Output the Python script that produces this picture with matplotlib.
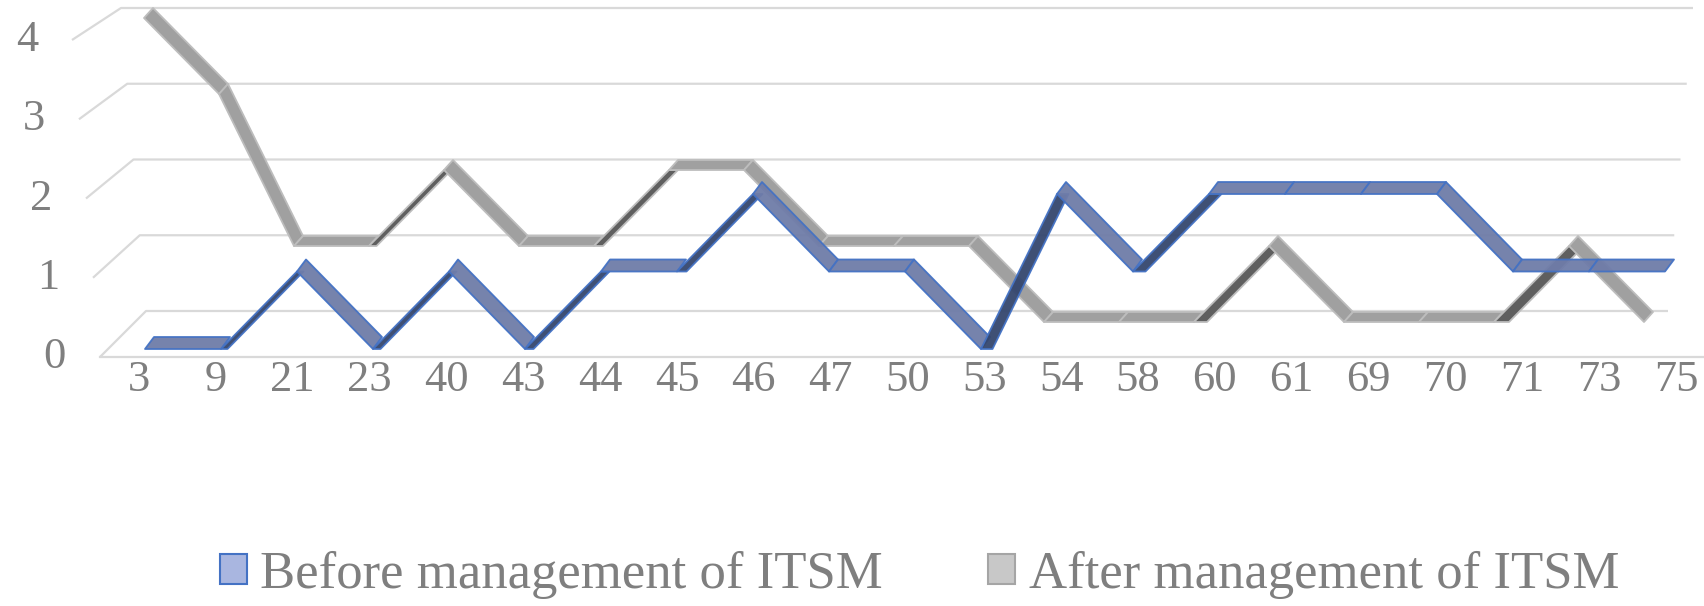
import numpy as np
import matplotlib
matplotlib.use('Agg')  # no display
import matplotlib.pyplot as plt
from matplotlib.patches import Polygon, Patch
from matplotlib.transforms import Affine2D

# chart data
categories = ['3', '9', '21', '23', '40', '43', '44', '45', '46', '47', '50',
              '53', '54', '58', '60', '61', '69', '70', '71', '73', '75']
before = [0, 0, 1, 0, 1, 0, 1, 1, 2, 1, 1, 0, 2, 1, 2, 2, 2, 2, 1, 1, 1]
after = [4, 3, 1, 1, 2, 1, 1, 2, 2, 1, 1, 1, 0, 0, 0, 1, 0, 0, 0, 1, 0]
y_ticks = [0, 1, 2, 3, 4]
series_names = ['Before management of ITSM', 'After management of ITSM']

plt.rcParams['font.family'] = ['Liberation Serif', 'DejaVu Serif']
text_color = '#7f7f7f'
grid_color = '#d9d9d9'

W, H = 1704, 606
fig = plt.figure(figsize=(W / 100, H / 100), dpi=100)
ax = fig.add_axes([0, 0, 1, 1])
ax.set_xlim(0, W)
ax.set_ylim(H, 0)
ax.axis('off')


def plane(x0, dx, y0, dy):
    # maps (category index, value) onto one depth slice of the fake 3D box
    return Affine2D().scale(dx, -dy).translate(x0, y0) + ax.transData


front = (145, 76, 349, 77.5)
back = (144, 75, 322, 76)

# back wall / side wall gridlines
gv = np.array(y_ticks, dtype=float)
back_y = 311 - 75.75 * gv
back_l = 146 - 6.25 * gv
back_r = 1668 + 6.25 * gv
side_x = 100 - 7 * gv
side_y = 357 - 79.25 * gv
for k in range(len(gv)):
    ax.plot([side_x[k], back_l[k], back_r[k]], [side_y[k], back_y[k], back_y[k]],
            color=grid_color, lw=1.6, zorder=1, solid_capstyle='butt')
ax.plot([side_x[0], W], [side_y[0], side_y[0]], color=grid_color, lw=1.6, zorder=1)

for k, v in enumerate(y_ticks):
    ax.text(side_x[k] - 34, side_y[k], str(v), ha='right', va='center',
            fontsize=32, color=text_color)

label_tr = plane(139, 76.85, 380, 1)
for i, c in enumerate(categories):
    ax.text(i, 0, c, transform=label_tr, ha='center', va='center',
            fontsize=32, color=text_color)


def ribbon(values, geom, depth, face, dark, edge, alpha, z):
    x0, dx, y0, dy = geom
    tr = plane(x0, dx, y0, dy)
    for i in range(len(values) - 1):
        v0, v1 = values[i], values[i + 1]
        if v1 > v0:
            # rising pieces show their side face more towards the right
            ox, oy, fc = (6 + 0.5 * i) / dx, 0.0, dark
        else:
            ox, oy, fc = 9 / dx, depth / dy, face
        pts = [(i, v0), (i + 1, v1), (i + 1 + ox, v1 + oy), (i + ox, v0 + oy)]
        ax.add_patch(Polygon(pts, closed=True, transform=tr, facecolor=fc,
                             edgecolor=edge, lw=1.3, alpha=alpha, zorder=z,
                             joinstyle='round'))


ribbon(after, back, 10, '#a0a0a0', '#5f5f5f', '#bdbdbd', 1.0, 2)
ribbon(before, front, 12, '#6f7ca8', '#34466e', '#4472c4', 0.95, 3)

handles = [Patch(facecolor='#a9b6e0', edgecolor='#4472c4', lw=1.5),
           Patch(facecolor='#c8c8c8', edgecolor='#a5a5a5', lw=1.5)]
fig.legend(handles, series_names, loc='center',
           bbox_to_anchor=(919.5 / W, 1 - 575 / H), ncol=2, frameon=False,
           prop={'family': 'Liberation Serif', 'size': 38},
           labelcolor=text_color, handlelength=0.5, handleheight=0.5,
           handletextpad=0.26, columnspacing=2.0)

fig.savefig('out.png', dpi=100)
